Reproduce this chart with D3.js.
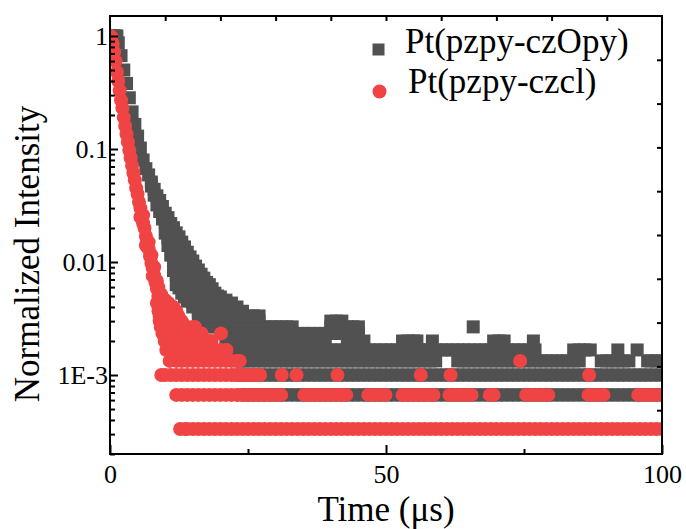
<!DOCTYPE html>
<html><head><meta charset="utf-8">
<script src="https://cdn.jsdelivr.net/npm/d3@7"></script>
<style>html,body{margin:0;padding:0;background:#fff;} svg{display:block;}</style>
</head><body>
<svg id="chart" width="686" height="529"></svg>
<script>
// ---------------- data ----------------
const seriesNames = ["Pt(pzpy-czOpy)", "Pt(pzpy-czcl)"];
const xTickValues = [0, 50, 100];
const xMinorTicks = [25, 75];
const yTickValues = [1, 0.1, 0.01, 0.001];
const yTickLabels = ["1", "0.1", "0.01", "1E-3"];
const countUnit = 1 / 3000; // normalized intensity of one count in the tail

// Pt(pzpy-czOpy): decay part [time (us), normalized intensity]
const grayDecay = [
 [0.5,1.0],[0.75,1.0],[1.0,1.0],[1.25,1.0],[1.5,0.87],[2.0,0.67],[2.5,0.50],[3.0,0.38],[3.5,0.284],
 [4.0,0.213],[4.5,0.165],[5.0,0.130],[5.5,0.102],[6.0,0.080],[6.5,0.067],[7.0,0.059],
 [7.5,0.051],[7.5,0.047],[8.0,0.044],[8.0,0.039],[8.5,0.0385],[8.5,0.032],[9.0,0.035],[9.0,0.028],
 [9.5,0.031],[9.5,0.024],[10,0.027],[10,0.0225],[10,0.018],
 [10.5,0.0247],[10.5,0.020],[10.5,0.0163],[10.5,0.014],
 [11,0.0219],[11,0.0178],[11,0.0145],[11,0.0115],
 [11.5,0.0201],[11.5,0.0159],[11.5,0.0128],[11.5,0.0102],[11.5,0.0084],
 [12,0.0181],[12,0.0145],[12,0.0119],[12,0.0098],[12,0.0078],[12,0.0063],
 [12.5,0.0167],[12.5,0.0136],[12.5,0.0111],[12.5,0.0089],[12.5,0.0072],[12.5,0.0059],
 [13,0.0150],[13,0.0122],[13,0.0100],[13,0.0082],[13,0.0066],[13,0.0053],
 [13.5,0.0136],[13.5,0.0111],[13.5,0.0090],[13.5,0.0074],[13.5,0.0060],[13.5,0.0049],
 [14,0.0122],[14,0.0100],[14,0.0082],[14,0.0066],[14,0.0054],[14,0.0045],
 [14.5,0.0111],[14.5,0.0090],[14.5,0.0074],[14.5,0.0060],[14.5,0.0049],
 [15,0.0102],[15,0.0083],[15,0.0068],[15,0.0055],[15,0.0045],
 [15.5,0.0092],[15.5,0.0075],[15.5,0.0061],[15.5,0.0050],
 [16,0.0085],[16,0.0069],[16,0.0057],[16,0.0046],
 [16.5,0.0078],[16.5,0.0063],[16.5,0.0052],
 [17,0.0072],[17,0.0059],[17,0.0048],
 [17.5,0.0066],[17.5,0.0054],[17.5,0.0046],
 [18,0.0063],[18,0.0051],[18.5,0.0058],[18.5,0.0047],
 [19,0.0053],[19,0.0046],[19.5,0.0050],[20,0.0049],[21,0.0046]
];
// Pt(pzpy-czOpy): tail, times (us) at which each count level occurs
const grayL2 = [24,25,26,27,28,29,30,31,32,33,34,35,36,37,38,39,40,41,42,43,44,45,46,47,48,49,50,51,52,53,54,55,56,57,58,59,60,61,62,63,64,65,66,67,68,69,70,71,72,73,74,75,76,77,78,79,80,81,82,83,84,85,86,87,88,89,90,91,92,93,94,95,96,97,98,99,100];
const grayL3 = [23,24,25,26,27,28,29,30,31,32,33,34,35,36,37,38,39,40,41,42,43,44,45,46,47,48,49,50,51,52,53,54,55,56,57,58,59,60,61,62,63,64,65,66,67,68,69,70,71,72,73,74,75,76,77,78,79,80,81,82,83,84,85,86,87,88,89,90,91,92,93,94,95,96,97,98,99,100];
const grayL4 = [23.5,24,25,26,27,28,29,30,31,32,33,34,35,36,37,38,39,40,41,42,43,44,45,46,47,48,49,50,51,52,53,54,55,56,57,58,59,63,64,65,66,67,68,69,70,71,72,73,74,75,76,77,78,79,80,81,82,83,84,85,89,90,91,92,93,94,97.4,98,99,100];
const grayL5 = [22.5,23,24,25,26,27,28,29,30,31,32,33,34,35,36,37,38,39,40,41,42,43,44,45,46,47,48,49,50,51,52,53,54,55,56,57,58,59,60,61,62,63,64,65,66,67,68,69,70,71,72,73,74,75,76,77,84,85,86,87,92,95.5];
const grayL6 = [21,22,23,24,25,26,27,28,29,30,31,32,33,34,35,36,37,38,39,43,44,45,46,53,54,55,55.6,58.4,69.5,70.5,71.4,76.7];
const grayL7 = [20,21,22,23,24,25,26,27,28,29,30,31,32,33,34,35,36,37,38,39,40,41,42,43,44,45];
const grayL8 = [18,19,20,21,22,23,24,25,26,27,28,29,30,31,32,33,40,41,42,43,44,45,65.8];
const grayL9 = [17,18,19,20,21,22,23,24,25,26,27,40,41,42];
const grayL10 = [16,17,18,19,20,21,22,23,24,25,26,27];
const grayL11 = [16,17,18,19,20,21,22,23,24];
const grayL12 = [15,16,17,18,19,20,21,22,23];
const grayL13 = [15,16,17,18,19,20,21,22];

// Pt(pzpy-czcl): decay part [time (us), normalized intensity]
const redDecay = [
 [0.0,1.00],[0.0,0.62],[0.25,0.98],[0.5,0.85],[0.75,0.72],[1.0,0.60],[1.25,0.48],[1.5,0.40],[1.75,0.33],
 [2.0,0.27],[2.25,0.23],[2.5,0.19],[2.75,0.16],[3.0,0.135],[3.25,0.115],[3.5,0.097],[3.75,0.083],
 [4.0,0.071],[4.25,0.061],[4.5,0.053],[4.75,0.045],[5.0,0.040],[5.25,0.034],[5.5,0.030],[5.5,0.025],
 [5.75,0.026],[6.0,0.022],[6.0,0.026],[6.25,0.020],[6.5,0.017],[6.5,0.014],[6.75,0.015],[7.0,0.0130],
 [7.0,0.015],[7.25,0.0112],[7.5,0.0098],[7.5,0.0115],[7.75,0.0088],[7.75,0.0075],[8.0,0.0076],
 [8.0,0.0090],[8.25,0.0066],[8.5,0.0058],[8.5,0.0068],[8.75,0.0050],[8.75,0.0060],[9.0,0.0046],
 [9.25,0.0052],[9.5,0.0048],[10.0,0.0046]
];
const redL1 = [12.7,13.6,14,15,16,17,18,19,20,21,22,23,24,25,26,27,28,29,30,31,32,33,34,35,36,37,38,39,40,41,42,43,44,45,46,47,48,49,50,51,52,53,54,55,56,57,58,59,60,61,62,63,64,65,66,67,68,69,70,71,72,73,74,75,76,77,78,79,80,81,82,83,84,85,86,87,88,89,90,91,92,93,94,95,96,97,98,99,100];
const redL2 = [12,13,14,15,16,17,18,19,20,21,22,23,24,25,26,27,28,29,30,31,35.2,36,37,38,39,40,41,42,42.8,46.8,47.8,48.9,49.9,53,54,55,56,57,58,58.6,61.5,62.5,63.5,64.5,65.5,68.8,69.5,75.4,76.4,77.4,78.4,79.4,86.7,87.6,88.5,89.4,95.7,96.7,97.7,98.7,99.7,100];
const redL3 = [9.3,10,11,12,13,14,15,16,17,18,19,20,21,22,23,24,25,26,27,27.2,31.1,33.8,41.2,56.3,61.7,86.8];
const redL4 = [10.8,12,13,14,15,16,17,18,19,20,21,22,23,23.5,74.3];
const redL5 = [10.2,11,12,13,14,15,16,17,18,19,20,21,21.1];
const redL6 = [9.9,11,12,13,14,15,16,17,18,18.4];
const redL7 = [9.5,10.5,11.5,12.5,13.5,14.5,15.5,16.6,20.1];
const redL8 = [9.2,10,11,12,13,14,15,15.4];
const redL9 = [9,10,11,12,13];
const redL10 = [9,10,11,12,12.4];
const redL11 = [8.8,9.8,10.8,12];
const redL12 = [8.8,9.8,10.8,11.5];
const redL13 = [8.5,9.5,10.6];

// ---------------- build points ----------------
function buildPoints(decay, levels) {
  const pts = decay.map(d => ({t: d[0], v: d[1]}));
  levels.forEach((times, i) => {
    const k = i + 1;
    if (!times) return;
    times.forEach(t => pts.push({t: t, v: k * countUnit}));
  });
  return pts;
}
const grayPoints = buildPoints(grayDecay, [null, grayL2, grayL3, grayL4, grayL5, grayL6, grayL7, grayL8, grayL9, grayL10, grayL11, grayL12, grayL13]);
const redPoints = buildPoints(redDecay, [redL1, redL2, redL3, redL4, redL5, redL6, redL7, redL8, redL9, redL10, redL11, redL12, redL13]);

// ---------------- chart ----------------
const colors = {gray: "#515151", red: "#f04444"};
const L = 110, R = 662, T = 16, B = 454;
const svg = d3.select("#chart");
const x = d3.scaleLinear().domain([0, 100]).range([L, R]);
const y = d3.scaleLog().domain([2.0e-4, 1.503]).range([B, T]);
const font = "'Liberation Serif', 'Times New Roman', serif";

svg.append("defs").append("clipPath").attr("id", "clip")
  .append("rect").attr("x", L).attr("y", T).attr("width", R - L).attr("height", B - T);

const plot = svg.append("g").attr("clip-path", "url(#clip)");
const sq = 13;
plot.append("g").selectAll("rect").data(grayPoints).join("rect")
  .attr("x", d => x(d.t) - sq / 2).attr("y", d => y(d.v) - sq / 2)
  .attr("width", sq).attr("height", sq).attr("fill", colors.gray);
plot.append("g").selectAll("circle").data(redPoints).join("circle")
  .attr("cx", d => x(d.t)).attr("cy", d => y(d.v)).attr("r", 7)
  .attr("fill", colors.red);

// axes
function styleAxis(g) {
  g.select(".domain").remove();
  g.selectAll(".tick line").attr("stroke", "#000").attr("stroke-width", 2);
  g.selectAll("text").attr("font-family", font).attr("font-size", 26).attr("fill", "#000");
}
const majorY = new Set(yTickValues);
const minorY = y.ticks().filter(v => !yTickValues.some(m => Math.abs(m - v) / m < 1e-9));

svg.append("g").attr("transform", `translate(${L},0)`)
  .call(d3.axisLeft(y).tickValues(minorY).tickSize(-5).tickFormat(""))
  .call(styleAxis);
svg.append("g").attr("transform", `translate(${L},0)`)
  .call(d3.axisLeft(y).tickValues(yTickValues).tickSize(-8).tickPadding(2)
    .tickFormat((d, i) => yTickLabels[i]))
  .call(styleAxis);

svg.append("g").attr("transform", `translate(0,${B})`)
  .call(d3.axisBottom(x).tickValues(xMinorTicks).tickSize(-5).tickFormat(""))
  .call(styleAxis);
svg.append("g").attr("transform", `translate(0,${B})`)
  .call(d3.axisBottom(x).tickValues(xTickValues).tickSize(-9).tickPadding(10.5))
  .call(styleAxis);

// mirrored top / right ticks
svg.append("g").attr("transform", `translate(0,${T})`)
  .call(d3.axisTop(x).tickValues(d3.range(10, 100, 10)).tickSize(-5).tickFormat(""))
  .call(styleAxis);
const yr = d3.scaleLinear().domain([0, 10]).range([B, T]);
svg.append("g").attr("transform", `translate(${R},0)`)
  .call(d3.axisRight(yr).tickValues(d3.range(1, 10)).tickSize(-5).tickFormat(""))
  .call(styleAxis);

svg.append("rect").attr("x", L).attr("y", T).attr("width", R - L).attr("height", B - T)
  .attr("fill", "none").attr("stroke", "#000").attr("stroke-width", 2);

// axis titles
svg.append("text").attr("x", (L + R) / 2).attr("y", 521).attr("text-anchor", "middle")
  .attr("font-family", font).attr("font-size", 35).text("Time (\u03bcs)");
svg.append("text").attr("transform", "translate(39,254) rotate(-90)").attr("text-anchor", "middle")
  .attr("font-family", font).attr("font-size", 35).text("Normalized Intensity");

// legend
const lg = svg.append("g");
lg.append("rect").attr("x", 372.5).attr("y", 43.5).attr("width", 12).attr("height", 12).attr("fill", colors.gray);
lg.append("text").attr("x", 405).attr("y", 53).attr("font-family", font).attr("font-size", 35).text(seriesNames[0]);
lg.append("circle").attr("cx", 379.5).attr("cy", 91.5).attr("r", 7).attr("fill", colors.red);
lg.append("text").attr("x", 408).attr("y", 93).attr("font-family", font).attr("font-size", 35).text(seriesNames[1]);
</script>
</body></html>
